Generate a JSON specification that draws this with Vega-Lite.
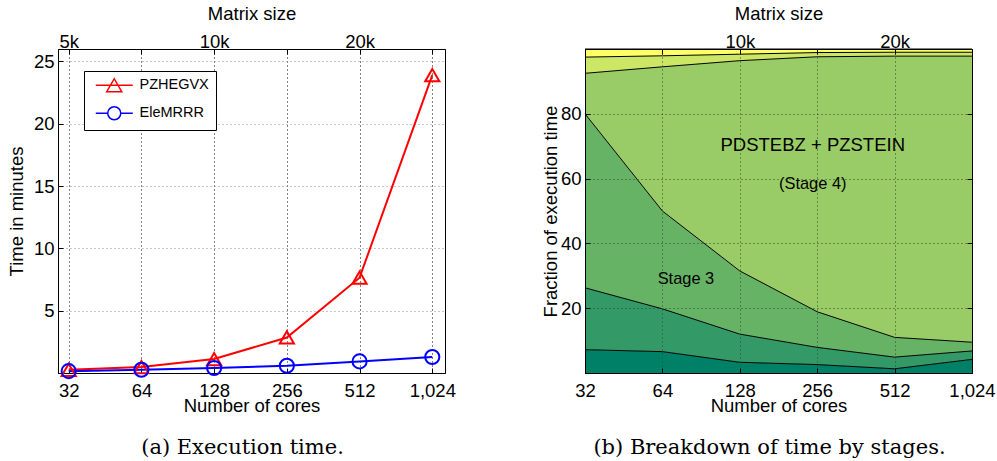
{
  "$schema": "https://vega.github.io/schema/vega-lite/v6.json",
  "background": "white",
  "padding": {"left": 6, "top": 4, "right": 0, "bottom": 0},
  "spacing": 85,
  "config": {
    "view": {"stroke": "black", "strokeWidth": 1},
    "axis": {
      "labelFont": "Liberation Sans", "labelFontSize": 18.5, "labelColor": "black",
      "titleFont": "Liberation Sans", "titleFontSize": 18.5, "titleFontWeight": "normal", "titleColor": "black",
      "domainColor": "black", "tickColor": "black", "tickSize": -5, "tickWidth": 1,
      "gridDash": [1, 3], "gridOpacity": 1, "labelFlush": false
    },
    "title": {"font": "DejaVu Serif", "fontSize": 21, "fontWeight": "normal", "color": "black"}
  },
  "resolve": {"scale": {"color": "independent", "x": "independent", "y": "independent"}},
  "hconcat": [
    {
      "width": 387, "height": 324,
      "title": {"text": "(a) Execution time.", "orient": "bottom", "dx": -9, "offset": 22},
      "data": {"values": [
        {"cores": 32, "series": "PZHEGVX", "t": 0.26},
        {"cores": 64, "series": "PZHEGVX", "t": 0.48},
        {"cores": 128, "series": "PZHEGVX", "t": 1.12},
        {"cores": 256, "series": "PZHEGVX", "t": 2.85},
        {"cores": 512, "series": "PZHEGVX", "t": 7.65},
        {"cores": 1024, "series": "PZHEGVX", "t": 23.9},
        {"cores": 32, "series": "EleMRRR", "t": 0.15},
        {"cores": 64, "series": "EleMRRR", "t": 0.26},
        {"cores": 128, "series": "EleMRRR", "t": 0.4},
        {"cores": 256, "series": "EleMRRR", "t": 0.58},
        {"cores": 512, "series": "EleMRRR", "t": 0.93},
        {"cores": 1024, "series": "EleMRRR", "t": 1.28}
      ]},
      "resolve": {"axis": {"x": "independent"}},
      "layer": [
        {
          "mark": {"type": "line", "strokeWidth": 2},
          "encoding": {
            "x": {"field": "cores", "type": "quantitative",
              "scale": {"type": "log", "base": 2, "domain": [28.9, 1156], "nice": false},
              "axis": {"orient": "bottom", "values": [32, 64, 128, 256, 512, 1024],
                "labelExpr": "format(datum.value, ',')", "grid": true, "gridColor": "black",
                "labelPadding": 13, "title": "Number of cores", "titlePadding": -3.5}},
            "y": {"field": "t", "type": "quantitative",
              "scale": {"domain": [0, 26], "nice": false},
              "axis": {"values": [5, 10, 15, 20, 25], "grid": true, "gridColor": "#8c8c8c",
                "labelPadding": 9, "title": "Time in minutes", "titlePadding": 7}},
            "color": {"field": "series", "type": "nominal",
              "scale": {"domain": ["PZHEGVX", "EleMRRR"], "range": ["#ff0000", "#0000ff"]},
              "legend": {"title": null, "orient": "none", "legendX": 26, "legendY": 22,
                "strokeColor": "black", "fillColor": "white", "padding": 7,
                "labelFont": "Liberation Sans", "labelFontSize": 14.5, "labelColor": "black",
                "symbolSize": 100, "symbolOffset": 16, "labelOffset": 18, "rowPadding": 8,
                "symbolStrokeWidth": 1.5,
                "encode": {"symbols": {"update": {
                  "shape": {"signal": "datum.value === 'PZHEGVX' ? 'M-3.7,0L3.7,0M0,-1.3L1.5,1.3L-1.5,1.3Z' : 'M-3.7,0L-1.3,0M1.3,0L3.7,0M-1.3,0A1.3,1.3,0,1,0,1.3,0A1.3,1.3,0,1,0,-1.3,0'"},
                  "stroke": {"signal": "datum.value === 'PZHEGVX' ? '#ff0000' : '#0000ff'"},
                  "fill": {"value": "transparent"},
                  "strokeWidth": {"value": 1.5}
                }}}}}
          }
        },
        {
          "mark": {"type": "point", "filled": false, "strokeWidth": 2, "size": 200, "opacity": 1},
          "encoding": {
            "x": {"field": "cores", "type": "quantitative",
              "axis": {"orient": "top", "values": [32, 64, 128, 256, 512, 1024],
                "labelExpr": "datum.value == 32 ? '5k' : datum.value == 128 ? '10k' : datum.value == 512 ? '20k' : ''",
                "grid": false, "labelPadding": 2.5, "title": "Matrix size", "titlePadding": 9}},
            "y": {"field": "t", "type": "quantitative"},
            "color": {"field": "series", "type": "nominal"},
            "shape": {"field": "series", "type": "nominal",
              "scale": {"domain": ["PZHEGVX", "EleMRRR"], "range": ["triangle-up", "circle"]},
              "legend": null}
          }
        }
      ]
    },
    {
      "width": 387, "height": 324,
      "title": {"text": "(b) Breakdown of time by stages.", "orient": "bottom", "dx": -9, "offset": 22},
      "data": {"values": [
        {"cores": 32, "stage": "Stage 1", "k": 1, "v": 7.2},
        {"cores": 64, "stage": "Stage 1", "k": 1, "v": 6.6},
        {"cores": 128, "stage": "Stage 1", "k": 1, "v": 3.3},
        {"cores": 256, "stage": "Stage 1", "k": 1, "v": 2.6},
        {"cores": 512, "stage": "Stage 1", "k": 1, "v": 1.3},
        {"cores": 1024, "stage": "Stage 1", "k": 1, "v": 4.2},
        {"cores": 32, "stage": "Stage 2", "k": 2, "v": 19.1},
        {"cores": 64, "stage": "Stage 2", "k": 2, "v": 13.2},
        {"cores": 128, "stage": "Stage 2", "k": 2, "v": 8.7},
        {"cores": 256, "stage": "Stage 2", "k": 2, "v": 5.3},
        {"cores": 512, "stage": "Stage 2", "k": 2, "v": 3.6},
        {"cores": 1024, "stage": "Stage 2", "k": 2, "v": 2.6},
        {"cores": 32, "stage": "Stage 3", "k": 3, "v": 53.7},
        {"cores": 64, "stage": "Stage 3", "k": 3, "v": 30.2},
        {"cores": 128, "stage": "Stage 3", "k": 3, "v": 19.5},
        {"cores": 256, "stage": "Stage 3", "k": 3, "v": 11.0},
        {"cores": 512, "stage": "Stage 3", "k": 3, "v": 6.1},
        {"cores": 1024, "stage": "Stage 3", "k": 3, "v": 2.7},
        {"cores": 32, "stage": "Stage 4", "k": 4, "v": 12.5},
        {"cores": 64, "stage": "Stage 4", "k": 4, "v": 44.5},
        {"cores": 128, "stage": "Stage 4", "k": 4, "v": 64.9},
        {"cores": 256, "stage": "Stage 4", "k": 4, "v": 78.7},
        {"cores": 512, "stage": "Stage 4", "k": 4, "v": 86.8},
        {"cores": 1024, "stage": "Stage 4", "k": 4, "v": 88.3},
        {"cores": 32, "stage": "Stage 5", "k": 5, "v": 5.0},
        {"cores": 64, "stage": "Stage 5", "k": 5, "v": 3.4},
        {"cores": 128, "stage": "Stage 5", "k": 5, "v": 2.0},
        {"cores": 256, "stage": "Stage 5", "k": 5, "v": 1.3},
        {"cores": 512, "stage": "Stage 5", "k": 5, "v": 1.2},
        {"cores": 1024, "stage": "Stage 5", "k": 5, "v": 1.2},
        {"cores": 32, "stage": "Stage 6", "k": 6, "v": 2.5},
        {"cores": 64, "stage": "Stage 6", "k": 6, "v": 2.1},
        {"cores": 128, "stage": "Stage 6", "k": 6, "v": 1.6},
        {"cores": 256, "stage": "Stage 6", "k": 6, "v": 1.1},
        {"cores": 512, "stage": "Stage 6", "k": 6, "v": 1.0},
        {"cores": 1024, "stage": "Stage 6", "k": 6, "v": 1.0}
      ]},
      "transform": [
        {"stack": "v", "groupby": ["cores"], "sort": [{"field": "k", "order": "ascending"}], "as": ["lo", "hi"]}
      ],
      "resolve": {"axis": {"x": "independent", "y": "independent"}},
      "layer": [
        {
          "mark": {"type": "area", "interpolate": "linear"},
          "encoding": {
            "x": {"field": "cores", "type": "quantitative",
              "scale": {"type": "log", "base": 2, "domain": [32, 1024], "nice": false},
              "axis": {"orient": "bottom", "values": [32, 64, 128, 256, 512, 1024],
                "labelExpr": "format(datum.value, ',')", "grid": true, "gridColor": "#2a4a2a",
                "labelFlush": false,
                "labelPadding": 13, "title": "Number of cores", "titlePadding": -3.5, "zindex": 1}},
            "y": {"field": "hi", "type": "quantitative",
              "scale": {"domain": [0, 100], "nice": false},
              "axis": {"values": [20, 40, 60, 80], "grid": true, "gridColor": "#2a4a2a",
                "labelPadding": 9, "title": "Fraction of execution time", "titlePadding": -0.5, "zindex": 1}},
            "y2": {"field": "lo"},
            "color": {"field": "stage", "type": "nominal",
              "scale": {"domain": ["Stage 1", "Stage 2", "Stage 3", "Stage 4", "Stage 5", "Stage 6"],
                "range": ["#008066", "#339966", "#66b366", "#99cc66", "#cce666", "#ffff66"]},
              "legend": null}
          }
        },
        {
          "mark": {"type": "line", "color": "black", "strokeWidth": 1, "interpolate": "linear"},
          "encoding": {
            "x": {"field": "cores", "type": "quantitative",
              "axis": {"orient": "top", "values": [64, 128, 256, 512],
                "labelExpr": "datum.value == 128 ? '10k' : datum.value == 512 ? '20k' : ''",
                "labelFlush": false,
                "grid": false, "labelPadding": 2.5, "title": "Matrix size", "titlePadding": 9, "zindex": 1}},
            "y": {"field": "hi", "type": "quantitative",
              "axis": {"orient": "right", "values": [20, 40, 60, 80], "labels": false, "title": null, "grid": false, "zindex": 1}},
            "detail": {"field": "stage", "type": "nominal"}
          }
        },
        {
          "data": {"values": [{"cores": 246, "pct": 70.4, "label": "PDSTEBZ + PZSTEIN"}]},
          "mark": {"type": "text", "font": "Liberation Sans", "fontSize": 18.5, "color": "black", "align": "center", "baseline": "middle"},
          "encoding": {
            "x": {"field": "cores", "type": "quantitative", "axis": null},
            "y": {"field": "pct", "type": "quantitative", "axis": null},
            "text": {"field": "label"}
          }
        },
        {
          "data": {"values": [
            {"cores": 246, "pct": 58.2, "label": "(Stage 4)"},
            {"cores": 79, "pct": 28.9, "label": "Stage 3"}
          ]},
          "mark": {"type": "text", "font": "Liberation Sans", "fontSize": 16.4, "color": "black", "align": "center", "baseline": "middle"},
          "encoding": {
            "x": {"field": "cores", "type": "quantitative", "axis": null},
            "y": {"field": "pct", "type": "quantitative", "axis": null},
            "text": {"field": "label"}
          }
        }
      ]
    }
  ]
}
